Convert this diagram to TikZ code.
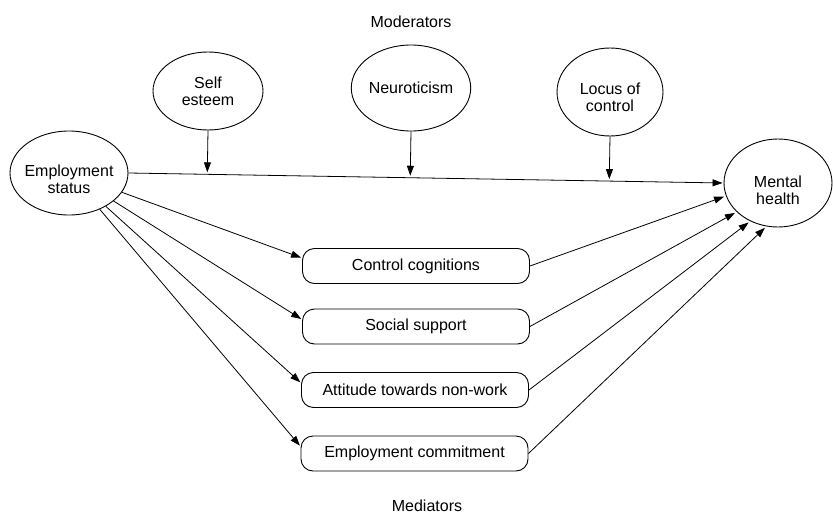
\documentclass[tikz,border=0pt]{standalone}
\usepackage{fontspec}
\setmainfont{Liberation Sans}
\usetikzlibrary{arrows.meta,calc,shapes.geometric}
\begin{document}
\begin{tikzpicture}[x=1pt,y=-1pt,
  every node/.style={font=\fontsize{16}{17}\selectfont, align=center},
  ell/.style={draw, ellipse, inner sep=0pt, line width=0.9pt},
  txt/.style 2 args={label={[yshift=#1]center:{#2}}},
  medbox/.style={draw, rounded corners=12pt, minimum width=227pt, minimum height=35pt, inner sep=0pt, line width=0.9pt},
  arr/.style={-{Triangle[length=10pt,width=7pt]}, line width=0.8pt, shorten >=1pt}]
\useasboundingbox (0,0) rectangle (833,514);

% titles
\node (modt) at (411,22) {Moderators};
\node (medt) at (427,506) {Mediators};

% ellipses
\node[ell, minimum width=118pt, minimum height=84pt, txt={-6pt}{Employment\\status}] (es) at (69,173) {};
\node[ell, minimum width=110pt, minimum height=78pt] (se) at (208,91) {Self\\esteem};
\node[ell, minimum width=108pt, minimum height=86pt] (ne) at (411,88) {Neuroticism};
\node[ell, minimum width=106pt, minimum height=88pt, txt={-5pt}{Locus of\\control}] (lc) at (610,92) {};
\node[ell, minimum width=108pt, minimum height=88pt, txt={-7pt}{Mental\\health}] (mh) at (778,183) {};

% mediator boxes
\node[medbox] (cc) at (416,266) {Control cognitions};
\node[medbox] (ss) at (416,326.5) {Social support};
\node[medbox] (at) at (415,390) {Attitude towards non-work};
\node[medbox] (ec) at (414.5,453.5) {Employment commitment};

% direct path
\draw[arr] (es.east) -- (mh.west);

% moderator arrows
\draw[arr, shorten >=2pt] (se.south) -- ($(es.east)!(se.south)!(mh.west)$);
\draw[arr, shorten >=2pt] (ne.south) -- ($(es.east)!(ne.south)!(mh.west)$);
\draw[arr, shorten >=2pt] (lc.south) -- ($(es.east)!(lc.south)!(mh.west)$);

% to mediators
\draw[arr] (es) -- ([yshift=8pt]cc.west);
\draw[arr] (es) -- ([yshift=7pt]ss.west);
\draw[arr] (es) -- ([yshift=7pt]at.west);
\draw[arr] (es) -- ([yshift=7pt]ec.west);

% from mediators
\draw[arr, shorten >=2pt] (cc.east) -- (mh.194);
\draw[arr, shorten >=2pt] (ss.east) -- (mh.215);
\draw[arr, shorten >=2pt] (at.east) -- (mh.234);
\draw[arr, shorten >=2pt] (ec.east) -- (mh.255);
\end{tikzpicture}
\end{document}
